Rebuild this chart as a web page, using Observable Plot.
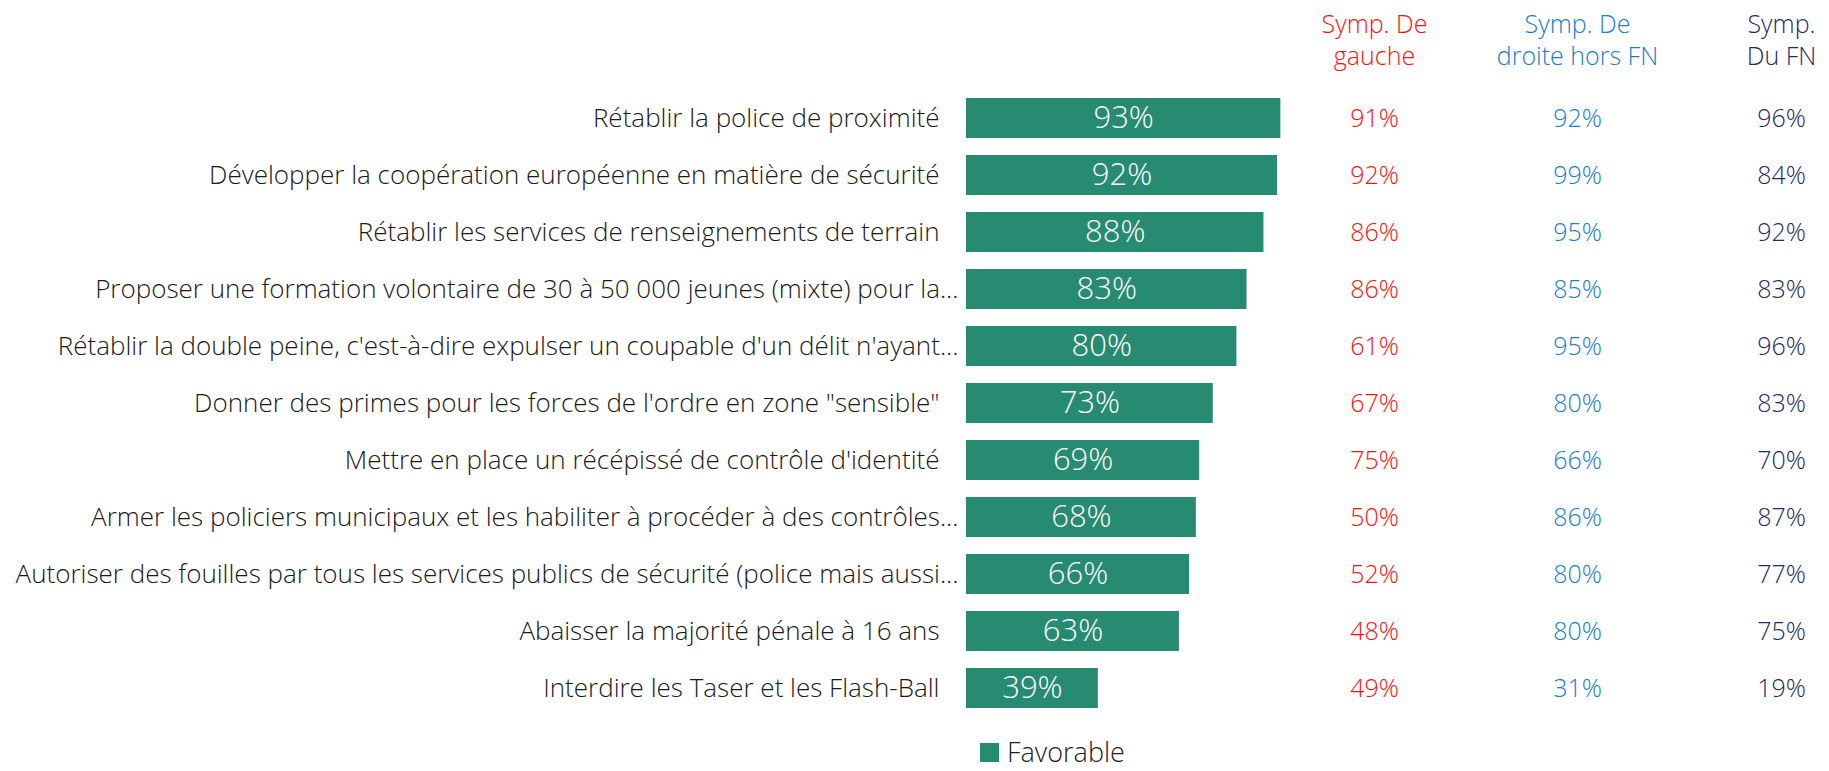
<!DOCTYPE html>
<html>
<head>
<meta charset="utf-8">
<script src="https://cdn.jsdelivr.net/npm/d3@7"></script>
<script src="https://cdn.jsdelivr.net/npm/@observablehq/plot@0.6"></script>
<style>
  body { margin: 0; background: #fff; font-family: "Open Sans", sans-serif; }
  #chart svg { display: block; }
  #legend { height: 34px; display: flex; align-items: center; padding-left: 980px; font-size: 27px; line-height: 34px; color: #222; font-weight: 300; }
  #legend .sw { width: 19px; height: 19px; background: #278B71; margin-right: 8px; }
</style>
</head>
<body>
<div id="chart"></div>
<div id="legend"><div class="sw"></div><span>Favorable</span></div>
<script>
const labels = [
  "Rétablir la police de proximité",
  "Développer la coopération européenne en matière de sécurité",
  "Rétablir les services de renseignements de terrain",
  "Proposer une formation volontaire de 30 à 50 000 jeunes (mixte) pour la...",
  "Rétablir la double peine, c'est-à-dire expulser un coupable d'un délit n'ayant...",
  "Donner des primes pour les forces de l'ordre en zone \"sensible\"",
  "Mettre en place un récépissé de contrôle d'identité",
  "Armer les policiers municipaux et les habiliter à procéder à des contrôles...",
  "Autoriser des fouilles par tous les services publics de sécurité (police mais aussi...",
  "Abaisser la majorité pénale à 16 ans",
  "Interdire les Taser et les Flash-Ball"
];
const favorable = [93, 92, 88, 83, 80, 73, 69, 68, 66, 63, 39];
const gauche    = [91, 92, 86, 86, 61, 67, 75, 50, 52, 48, 49];
const droite    = [92, 99, 95, 85, 95, 80, 66, 86, 80, 80, 31];
const fn        = [96, 84, 92, 83, 96, 83, 70, 87, 77, 75, 19];
const groupNames = ["Symp. De\ngauche", "Symp. De\ndroite hors FN", "Symp.\nDu FN"];
const groupColors = ["#FF0F0F", "#1A7ECB", "#1F2B5E"];
const groupSeries = [gauche, droite, fn];
const groupOffsets = [70, 273, 477];

const rows = labels.map((label, i) => ({label, value: favorable[i], truncated: label.endsWith("...")}));

const marks = [
  Plot.barX(rows, {y: "label", x: "value", fill: "#278B71"}),
  Plot.text(rows, {y: "label", x: d => d.value / 2, text: d => d.value + "%", fill: "white", fontSize: 31, fontWeight: 300}),
  Plot.text(rows.filter(d => !d.truncated), {y: "label", frameAnchor: "left", dx: -27, textAnchor: "end", text: "label", fontSize: 26, fontWeight: 300, fill: "#1a1a1a"}),
  Plot.text(rows.filter(d => d.truncated), {y: "label", frameAnchor: "left", dx: -8, textAnchor: "end", text: "label", fontSize: 26, fontWeight: 300, fill: "#1a1a1a"})
];
groupSeries.forEach((series, g) => {
  marks.push(Plot.text(labels.map((label, i) => ({label, v: series[i]})), {
    y: "label", frameAnchor: "right", dx: groupOffsets[g], textAnchor: "middle", text: d => d.v + "%", fill: groupColors[g], fontSize: 25, fontWeight: 300
  }));
  marks.push(Plot.text([groupNames[g]], {
    frameAnchor: "top-right", dx: groupOffsets[g], dy: -70, textAnchor: "middle", lineAnchor: "top", lineHeight: 1.27,
    text: d => d, fill: groupColors[g], fontSize: 25, fontWeight: 300
  }));
});

const chart = Plot.plot({
  width: 1829,
  height: 735,
  marginLeft: 966,
  marginRight: 525,
  marginTop: 80,
  marginBottom: 9,
  style: {fontFamily: "Open Sans", background: "white"},
  x: {domain: [0, 100], axis: null},
  y: {domain: labels, axis: null, padding: 0.3},
  marks
});
document.getElementById("chart").appendChild(chart);
</script>
</body>
</html>
